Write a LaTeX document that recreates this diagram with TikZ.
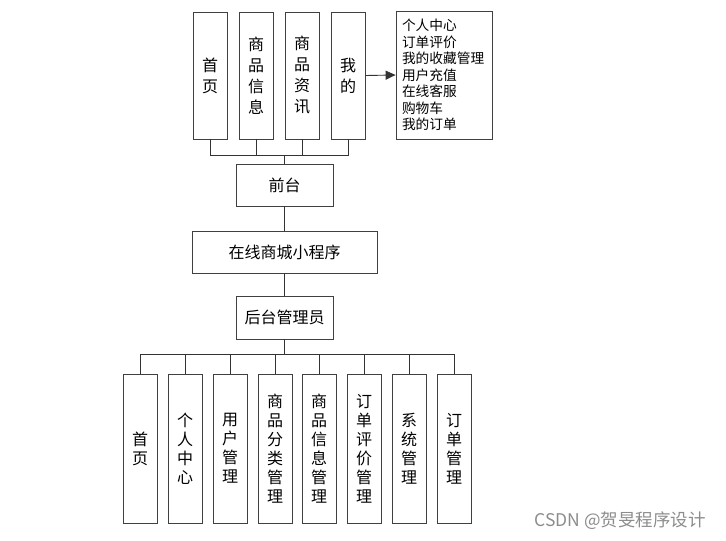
\documentclass[tikz,border=0pt]{standalone}
\usepackage{fontspec}
\setmainfont{Noto Sans CJK SC}
\usetikzlibrary{arrows.meta, positioning}

\begin{document}
\begin{tikzpicture}[x=1pt, y=-1pt,
    box/.style={draw=black!75, line width=0.8pt, fill=white, inner sep=0pt,
        align=center, font=\fontsize{16}{21}\selectfont},
    vbox/.style={box, minimum width=34pt, minimum height=127pt},
    hbox/.style={box, minimum width=97pt, minimum height=42pt},
    link/.style={draw=black!80, line width=0.9pt}]
    \useasboundingbox (0,0) rectangle (726,541);
    % front end modules
    \node[vbox] (home)  at (210,75.5) {首\\页};
    \node[vbox] (goods) at (256,75.5) {商\\品\\信\\息};
    \node[vbox] (news)  at (302,75.5) {商\\品\\资\\讯};
    \node[vbox] (mine)  at (348,75.5) {我\\的};
    \node[box, minimum width=96pt, minimum height=128pt, text width=84pt,
        align=left, font=\fontsize{13.7}{16.5}\selectfont] (list) at (444,75)
        {个人中心\\订单评价\\我的收藏管理\\用户充值\\在线客服\\购物车\\我的订单};
    \draw[link, -{Triangle[length=10pt, width=9pt]}] (mine.east) -- (list.west);
    % main chain
    \node[hbox] (front) at (284.5,185) {前台};
    \node[hbox, minimum width=185pt] (app) at (284.5,252) {在线商城小程序};
    \node[hbox, minimum height=43pt] (admin) at (284.5,317.5) {后台管理员};
    \coordinate (topbus) at (284.5,155);
    \foreach \n in {home, goods, news, mine}
        \draw[link] (\n.south) |- (topbus);
    \draw[link] (topbus) -- (front.north);
    \draw[link] (front) -- (app);
    \draw[link] (app) -- (admin);
    % back end modules
    \coordinate (botbus) at (284.5,354);
    \draw[link] (admin.south) -- (botbus);
    \foreach \i/\x/\lbl in {1/140/首\\页, 2/185/个\\人\\中\\心, 3/230/用\\户\\管\\理,
        4/275/商\\品\\分\\类\\管\\理, 5/319/商\\品\\信\\息\\管\\理,
        6/364/订\\单\\评\\价\\管\\理, 7/409/系\\统\\管\\理, 8/454/订\\单\\管\\理} {
        \node[vbox, minimum height=149pt, font=\fontsize{16}{19}\selectfont] (b\i) at (\x,448.5) {\lbl};
        \draw[link] (botbus) -| (b\i.north);
    }
    \node[text=black!45, font=\fontsize{17.5}{17.5}\selectfont] (mark) at (620,521) {CSDN @贺旻程序设计};
\end{tikzpicture}
\end{document}
